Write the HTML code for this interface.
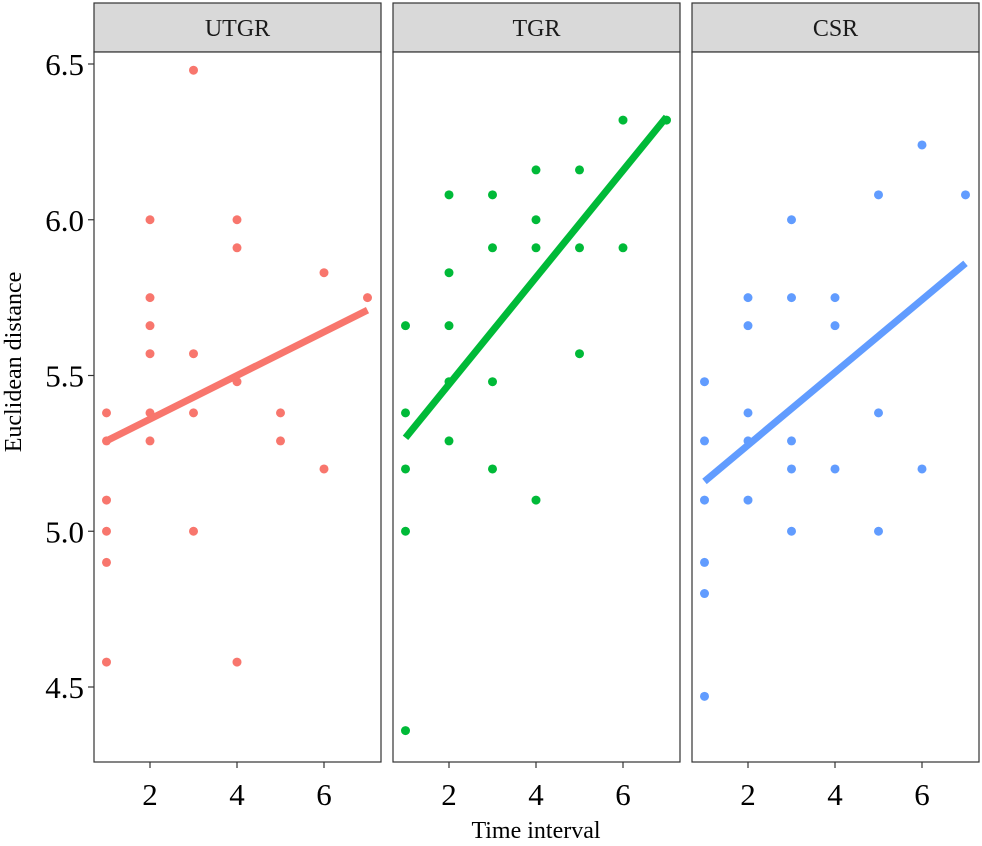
<!DOCTYPE html>
<html><head><meta charset="utf-8"><style>
html,body{margin:0;padding:0;background:#fff}
svg{display:block;font-family:"Liberation Serif",serif}
</style></head><body>
<svg id="chart" width="982" height="846"></svg>
<script>
const panelNames = ["UTGR","TGR","CSR"];
const panelColors = ["#F8766D","#00BA38","#619CFF"];
const xTicks = [2,4,6];
const yTicks = [4.5,5.0,5.5,6.0,6.5];
const yTickLabels = ["4.5","5.0","5.5","6.0","6.5"];
const utgrX = [1,1,1,1,1,1,2,2,2,2,2,2,3,3,3,3,4,4,4,4,5,5,6,6,7];
const utgrY = [5.38,5.29,5.1,5.0,4.9,4.58,6.0,5.75,5.66,5.57,5.38,5.29,6.48,5.57,5.38,5.0,6.0,5.91,5.48,4.58,5.38,5.29,5.83,5.2,5.75];
const tgrX = [1,1,1,1,1,2,2,2,2,2,3,3,3,3,4,4,4,4,5,5,5,6,6,7];
const tgrY = [5.66,5.38,5.2,5.0,4.36,6.08,5.83,5.66,5.48,5.29,6.08,5.91,5.48,5.2,6.16,6.0,5.91,5.1,6.16,5.91,5.57,6.32,5.91,6.32];
const csrX = [1,1,1,1,1,1,2,2,2,2,2,3,3,3,3,3,4,4,4,5,5,5,6,6,7];
const csrY = [5.48,5.29,5.1,4.9,4.8,4.47,5.75,5.66,5.38,5.29,5.1,6.0,5.75,5.29,5.2,5.0,5.75,5.66,5.2,6.08,5.38,5.0,6.24,5.2,6.08];
const fitStart = [5.29,5.30,5.16];
const fitEnd = [5.71,6.33,5.86];

const NS="http://www.w3.org/2000/svg";
const svgRoot=document.getElementById('chart');
function mk(t,a,p){const e=document.createElementNS(NS,t);for(const k in a)e.setAttribute(k,a[k]);(p||svgRoot).appendChild(e);return e;}
const panelLeft=[94,393,692], panelW=287, plotTop=52, plotBottom=762, headerTop=3;
function yScale(v){return 64+(6.5-v)*311.5;}
function xScale(p,v){return panelLeft[p]+12.5+(v-1)*43.5;}
const xs=[utgrX,tgrX,csrX], ys=[utgrY,tgrY,csrY];

for(let p=0;p<3;p++){
  const g=mk('g',{});
  
  
  const L=panelLeft[p];
  const h=mk('rect',{x:L,y:headerTop,width:panelW,height:plotTop-headerTop,fill:'#d9d9d9',stroke:'#333','stroke-width':1.2},g);
  
  
  const ht=mk('text',{x:L+panelW/2,y:36,'text-anchor':'middle','font-size':24,fill:'#1a1a1a'},g);
  ht.textContent=panelNames[p];
  
  
  const fr=mk('rect',{x:L,y:plotTop,width:panelW,height:plotBottom-plotTop,fill:'#fff',stroke:'#333','stroke-width':1.2},g);
  
  
  for(let i=0;i<xs[p].length;i++){
    const c=mk('circle',{cx:xScale(p,xs[p][i]),cy:yScale(ys[p][i]),r:4.5,fill:panelColors[p]},g);
    
    
  }
  const ln=mk('line',{x1:xScale(p,1),y1:yScale(fitStart[p]),x2:xScale(p,7),y2:yScale(fitEnd[p]),stroke:panelColors[p],'stroke-width':7},g);
  
  
  for(const t of xTicks){
    const x=xScale(p,t);
    const tk=mk('line',{x1:x,y1:plotBottom,x2:x,y2:plotBottom+6,stroke:'#333','stroke-width':1.2},g);
    
    
    const tl=mk('text',{x:x,y:plotBottom+43,'text-anchor':'middle','font-size':31,fill:'#000'},g);
    tl.textContent=t;
    
    
  }
}
for(let i=0;i<yTicks.length;i++){
  const y=yScale(yTicks[i]);
  const tk=mk('line',{x1:88,y1:y,x2:94,y2:y,stroke:'#333','stroke-width':1.2});
  
  
  const tl=mk('text',{x:84,y:y+11,'text-anchor':'end','font-size':31,fill:'#000'});
  tl.textContent=yTickLabels[i];
  
  
}
const xt=mk('text',{x:536,y:838,'text-anchor':'middle','font-size':24,fill:'#000'});
xt.textContent='Time interval';


const yt=mk('text',{x:21,y:362,'text-anchor':'middle','font-size':24,fill:'#000',transform:'rotate(-90 21 362)'});
yt.textContent='Euclidean distance';


</script>
</body></html>
